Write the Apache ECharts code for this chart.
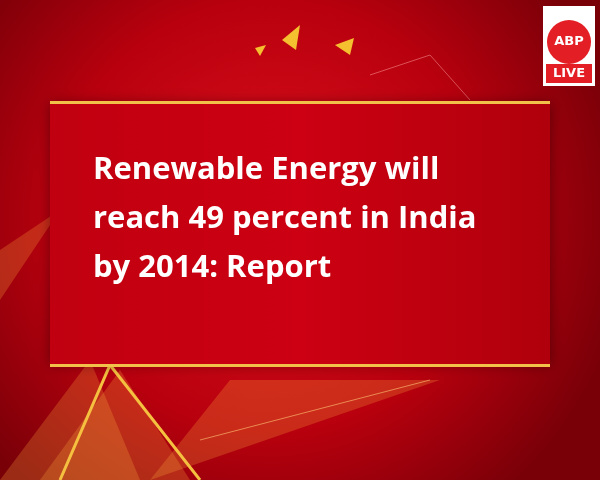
<!DOCTYPE html>
<html><head><meta charset="utf-8">
<script src="https://cdn.jsdelivr.net/npm/echarts@6/dist/echarts.min.js"></script>
<style>html,body{margin:0;padding:0;background:#b8000c}#c{width:600px;height:480px}</style>
</head><body><div id="c"></div>
<script>
const titleLines = ["Renewable Energy will", "reach 49 percent in India", "by 2014: Report"];
const logoTop = "ABP";
const logoBottom = "LIVE";

const chart = echarts.init(document.getElementById('c'));
const g = [];
g.push({type:'rect',shape:{x:0,y:0,width:600,height:480},style:{fill:new echarts.graphic.RadialGradient(0.45,0.45,0.75,[{offset:0,color:'#e0101c'},{offset:0.6,color:'#b8000e'},{offset:1,color:'#7a0008'}])}});
const streaks=[[[0,480],[90,360],[140,480]],[[40,480],[120,370],[190,480]],[[150,480],[230,380],[440,380]],[[0,250],[60,210],[0,300]]];
streaks.forEach(s=>g.push({type:'polygon',shape:{points:s},style:{fill:'rgba(255,170,60,0.25)'}}));
g.push({type:'polyline',shape:{points:[[60,480],[110,365],[200,480]]},style:{stroke:'#f5c040',lineWidth:3,fill:null}});
g.push({type:'polyline',shape:{points:[[200,440],[430,380]]},style:{stroke:'rgba(255,200,120,0.6)',lineWidth:1}});
g.push({type:'polyline',shape:{points:[[370,75],[430,55],[470,100]]},style:{stroke:'rgba(255,160,160,0.5)',lineWidth:1,fill:null}});
[[[282,40],[300,25],[296,50]],[[255,48],[266,45],[260,56]],[[335,45],[354,38],[350,55]]].forEach(p=>g.push({type:'polygon',shape:{points:p},style:{fill:'#f5c030'}}));
g.push({type:'rect',shape:{x:50,y:103,width:500,height:262},style:{fill:new echarts.graphic.LinearGradient(0,0,1,0,[{offset:0,color:'#c00010'},{offset:0.5,color:'#cc0012'},{offset:1,color:'#b0000c'}]),shadowBlur:12,shadowColor:'rgba(0,0,0,0.4)'}});
g.push({type:'rect',shape:{x:50,y:101,width:500,height:3},style:{fill:'#f2c14a'}});
g.push({type:'rect',shape:{x:50,y:364,width:500,height:3},style:{fill:'#f2c14a'}});
titleLines.forEach((t,i)=>g.push({type:'text',x:93,y:170+i*49,style:{text:t,fill:'#ffffff',font:'bold 31px "Open Sans", "Noto Sans", sans-serif',textVerticalAlign:'middle'}}));
g.push({type:'rect',shape:{x:543,y:6,width:52,height:80},style:{fill:'#ffffff'}});
g.push({type:'circle',shape:{cx:569,cy:42,r:22},style:{fill:'#e31e24'}});
g.push({type:'text',x:569,y:42,style:{text:logoTop,fill:'#ffffff',font:'bold 13px "DejaVu Sans", sans-serif',textAlign:'center',textVerticalAlign:'middle'}});
g.push({type:'rect',shape:{x:546,y:64,width:46,height:19},style:{fill:'#e31e24'}});
g.push({type:'text',x:569,y:74,style:{text:logoBottom,fill:'#ffffff',font:'bold 13px "DejaVu Sans", sans-serif',textAlign:'center',textVerticalAlign:'middle'}});
chart.setOption({animation:false,graphic:g});
</script></body></html>
